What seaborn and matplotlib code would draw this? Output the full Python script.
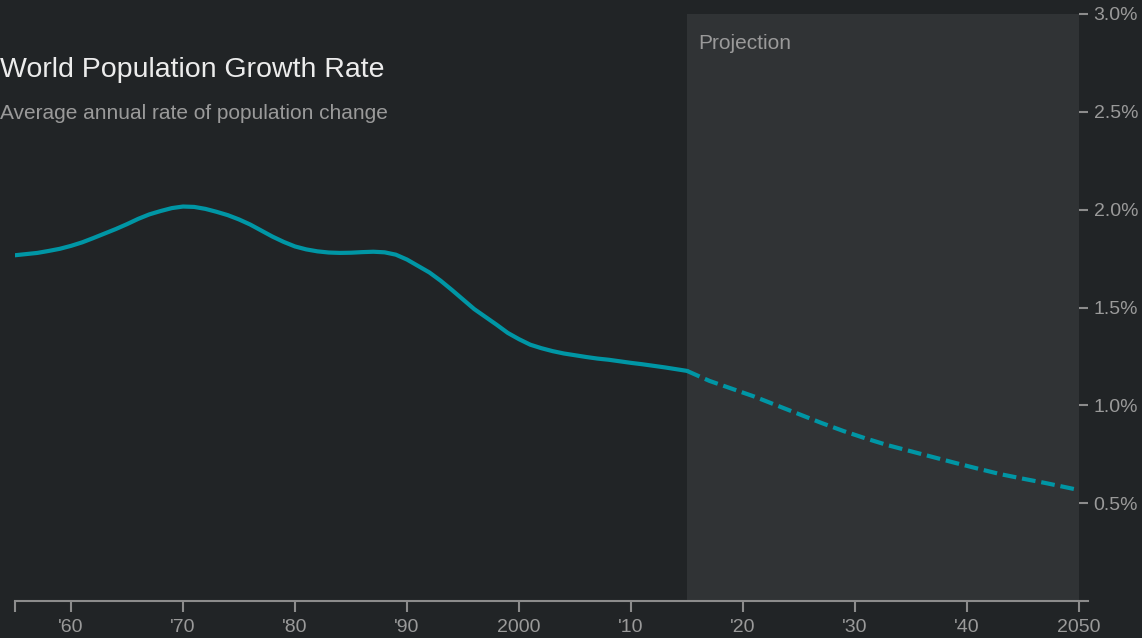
import matplotlib
matplotlib.use('Agg')
import matplotlib.pyplot as plt
import seaborn as sns
import pandas as pd

# Values (average annual rate of population change, %)
hist_years = list(range(1955, 2016))
hist_rate = [1.767, 1.773, 1.779, 1.789, 1.800, 1.815, 1.833, 1.855, 1.878, 1.901,
             1.926, 1.953, 1.976, 1.993, 2.008, 2.016, 2.014, 2.004, 1.989, 1.972,
             1.950, 1.924, 1.893, 1.862, 1.835, 1.812, 1.797, 1.787, 1.781, 1.779,
             1.780, 1.783, 1.785, 1.782, 1.770, 1.745, 1.712, 1.679, 1.637, 1.590,
             1.541, 1.492, 1.452, 1.412, 1.370, 1.338, 1.310, 1.292, 1.277, 1.265,
             1.256, 1.247, 1.239, 1.233, 1.225, 1.217, 1.210, 1.202, 1.194, 1.185,
             1.176]

proj_years = [2015, 2017, 2019, 2021, 2023, 2025, 2027, 2029, 2031, 2033, 2035,
              2037, 2039, 2041, 2043, 2045, 2047, 2050]
proj_rate = [1.176, 1.125, 1.085, 1.045, 1.000, 0.955, 0.910, 0.868, 0.830, 0.795,
             0.765, 0.735, 0.705, 0.676, 0.648, 0.625, 0.603, 0.567]

xtick_pos = [1955, 1960, 1970, 1980, 1990, 2000, 2010, 2020, 2030, 2040, 2050]
xtick_labels = ['', "'60", "'70", "'80", "'90", '2000', "'10", "'20", "'30", "'40", '2050']
ytick_pos = [0.5, 1.0, 1.5, 2.0, 2.5, 3.0]

bg = '#212426'
shade = '#303335'
teal = '#0096a5'
grey = '#9a9a9a'
axis_grey = '#8c8c8c'

sns.set_style('dark')
plt.rcParams['font.family'] = ['Liberation Sans', 'DejaVu Sans']

fig = plt.figure(figsize=(11.42, 6.38), dpi=100, facecolor=bg)
ax = fig.add_axes([15 / 1142, 37 / 638, (1088 - 15) / 1142, (601 - 14) / 638])
ax.set_facecolor(bg)

# shaded projection period
ax.axvspan(2015, 2050, color=shade, lw=0, zorder=0)

hist = pd.DataFrame({'year': hist_years, 'rate': hist_rate})
proj = pd.DataFrame({'year': proj_years, 'rate': proj_rate})
sns.lineplot(data=hist, x='year', y='rate', ax=ax, color=teal, lw=3.0, zorder=3,
             solid_joinstyle='round')
sns.lineplot(data=proj, x='year', y='rate', ax=ax, color=teal, lw=3.0, zorder=3,
             linestyle=(0, (3.3, 1.4)))

ax.set_xlim(1955, 2050.8)
ax.set_ylim(0, 3.0)
ax.set_xlabel('')
ax.set_ylabel('')
ax.grid(False)

for s in ['top', 'left', 'right']:
    ax.spines[s].set_visible(False)
ax.spines['bottom'].set_visible(True)
ax.spines['bottom'].set_color(axis_grey)
ax.spines['bottom'].set_linewidth(1.5)

ax.set_xticks(xtick_pos)
ax.set_xticklabels(xtick_labels)
ax.tick_params(axis='x', direction='out', length=8, width=1.5, color=axis_grey,
               labelcolor=grey, labelsize=14, pad=5, bottom=True)

ax.yaxis.tick_right()
ax.set_yticks(ytick_pos)
ax.set_yticklabels([f'{v:.1f}%' for v in ytick_pos])
ax.tick_params(axis='y', direction='in', length=6.5, width=1.5, color=axis_grey,
               labelcolor=grey, labelsize=14, pad=4, right=True, left=False)

fig.text(0.0, 1 - 77 / 638, 'World Population Growth Rate', color='#ececec',
         fontsize=20.5, va='baseline', ha='left')
fig.text(0.0, 1 - 119 / 638, 'Average annual rate of population change', color=grey,
         fontsize=15, va='baseline', ha='left')
ax.text(2016, 2.82, 'Projection', color=grey, fontsize=15, va='baseline', ha='left')

fig.savefig('out.png', dpi=100, facecolor=bg)
